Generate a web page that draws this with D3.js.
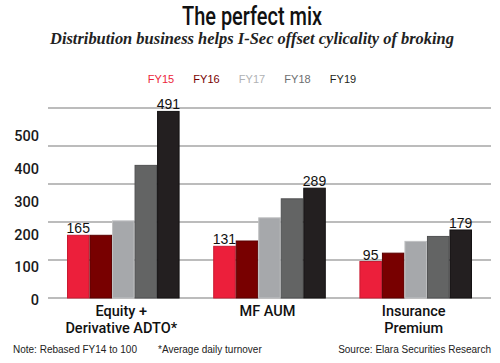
<!DOCTYPE html>
<meta charset="utf-8">
<style>
  body { margin: 0; background: #fff; }
  text { font-family: "Liberation Sans", Arial, sans-serif; }
  .grid line { stroke: #7a7a7a; stroke-width: 1.2px; }
</style>
<body>
<div id="chart"></div>
<script src="https://d3js.org/d3.v7.min.js"></script>
<script>
  // chart data
  var categories = [["Equity +", "Derivative ADTO*"], ["MF AUM"], ["Insurance", "Premium"]];
  var years = ["FY15", "FY16", "FY17", "FY18", "FY19"];
  var equity = [165, 165, 203, 349, 491];
  var mfaum = [136, 150, 211, 261, 289];
  var insurance = [96, 118, 149, 162, 179];
  var labelled = [[165, null, null, null, 491], [131, null, null, null, 289], [95, null, null, null, 179]];
  var yTicks = [0, 100, 200, 300, 400, 500];

  var colors = ["#ec1f3b", "#780000", "#a6a8ab", "#636464", "#231f20"];
  var legendColors = ["#ec1f3b", "#780000", "#b0b2b4", "#6d6e70", "#231f20"];
  var borders = ["#c91a31", "#5a0000", "#bfc0c2", "#505152", "#141213"];

  var series = [equity, mfaum, insurance];

  var svg = d3.select("#chart").append("svg")
    .attr("width", 500).attr("height", 363);

  // title
  svg.append("text")
    .attr("x", 182).attr("y", 25)
    .attr("textLength", 140)
    .attr("lengthAdjust", "spacingAndGlyphs")
    .style("font-family", "Roboto, sans-serif")
    .style("font-size", "26px")
    .style("font-weight", "500")
    .attr("fill", "#111")
    .text("The perfect mix");

  svg.append("text")
    .attr("x", 50).attr("y", 44)
    .attr("textLength", 404)
    .attr("lengthAdjust", "spacingAndGlyphs")
    .style("font-family", "'Liberation Serif', 'DejaVu Serif', serif")
    .style("font-size", "16px")
    .style("font-style", "italic")
    .style("font-weight", "bold")
    .attr("fill", "#222")
    .text("Distribution business helps I-Sec offset cylicality of broking");

  // legend
  var legX = d3.scalePoint().domain(years).range([161, 343]);
  svg.append("g").selectAll("text").data(years).join("text")
    .attr("x", function (d) { return legX(d); })
    .attr("y", 83)
    .attr("text-anchor", "middle")
    .style("font-size", "11px")
    .attr("fill", function (d, i) { return legendColors[i]; })
    .text(function (d) { return d; });

  // scales
  var x0 = d3.scaleBand().domain(d3.range(categories.length))
    .range([48, 491]).paddingInner(0.23).paddingOuter(0.13);
  var x1 = d3.scaleBand().domain(years).range([0, x0.bandwidth()]);
  var y = d3.scaleLinear().domain([0, 500]).range([298, 108]);
  // the printed tick labels sit on their own tighter spacing
  var yLab = d3.scaleLinear().domain([0, 500]).range([300, 136]);

  // gridlines
  svg.append("g").attr("class", "grid")
    .selectAll("line").data(yTicks).join("line")
    .attr("x1", 48).attr("x2", 491)
    .attr("y1", function (d) { return y(d); })
    .attr("y2", function (d) { return y(d); });

  svg.append("g").selectAll("text").data(yTicks).join("text")
    .attr("x", 39)
    .attr("y", function (d) { return yLab(d); })
    .attr("dy", "0.36em")
    .attr("text-anchor", "end")
    .style("font-family", "Roboto, sans-serif")
    .style("font-weight", "500")
    .style("font-size", "14.5px")
    .attr("fill", "#1a1a1a")
    .text(function (d) { return d; });

  // bars
  var groups = svg.append("g").selectAll("g").data(series).join("g")
    .attr("transform", function (d, i) { return "translate(" + x0(i) + ",0)"; });

  groups.selectAll("rect").data(function (d) { return d; }).join("rect")
    .attr("x", function (d, i) { return x1(years[i]) + 0.5; })
    .attr("y", function (d) { return y(d); })
    .attr("width", x1.bandwidth() - 1)
    .attr("height", function (d) { return y(0) - y(d); })
    .attr("fill", function (d, i) { return colors[i]; })
    .attr("stroke", function (d, i) { return borders[i]; })
    .attr("stroke-width", 1);

  // value labels
  groups.each(function (d, gi) {
    d3.select(this).selectAll("text.val")
      .data(labelled[gi].map(function (v, i) { return { v: v, h: d[i], i: i }; })
        .filter(function (o) { return o.v !== null; }))
      .join("text")
      .attr("class", "val")
      .attr("x", function (o) { return x1(years[o.i]) + x1.bandwidth() / 2; })
      .attr("y", function (o) { return y(o.h) - 2; })
      .attr("text-anchor", "middle")
      .style("font-size", "14px")
      .attr("fill", "#111")
      .text(function (o) { return o.v; });
  });

  // category labels
  svg.append("g").selectAll("text").data(categories).join("text")
    .attr("x", function (d, i) { return x0(i) + x0.bandwidth() / 2 - 2; })
    .attr("y", 316)
    .attr("text-anchor", "middle")
    .style("font-family", "Roboto, sans-serif")
    .style("font-weight", "500")
    .style("font-size", "14.5px")
    .attr("fill", "#111")
    .each(function (d) {
      var t = d3.select(this);
      d.forEach(function (line, k) {
        t.append("tspan")
          .attr("x", t.attr("x"))
          .attr("dy", k === 0 ? 0 : 17)
          .text(line);
      });
    });

  // footer
  svg.append("text").attr("x", 13).attr("y", 353)
    .style("font-size", "10px").attr("fill", "#222")
    .text("Note: Rebased FY14 to 100");
  svg.append("text").attr("x", 158).attr("y", 353)
    .style("font-size", "10px").attr("fill", "#222")
    .text("*Average daily turnover");
  svg.append("text").attr("x", 491).attr("y", 353)
    .attr("text-anchor", "end")
    .style("font-size", "10px").attr("fill", "#222")
    .text("Source: Elara Securities Research");
</script>
</body>
